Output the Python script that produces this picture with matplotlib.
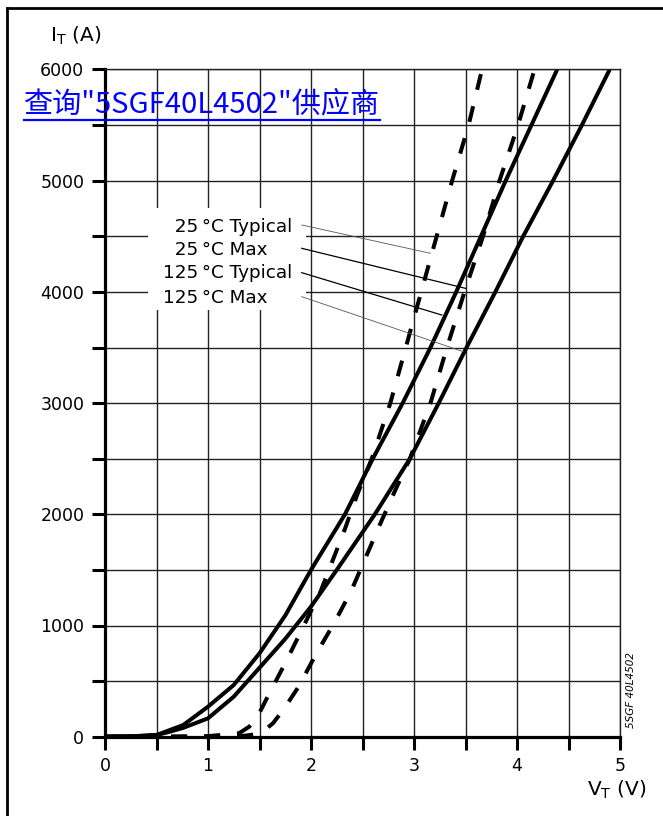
import numpy as np
import matplotlib.pyplot as plt
from matplotlib.patches import Rectangle
from matplotlib.lines import Line2D

# on-state characteristics
v_25_typ = [0, 0.5, 1.0, 1.3, 1.4, 1.47, 1.59, 1.76, 1.91, 2.09, 2.2, 2.33, 2.45,
            2.59, 2.77, 2.92, 3.07, 3.22, 3.37, 3.53, 3.66]
i_25_typ = [0, 0, 5, 30, 90, 160, 380, 680, 960, 1300, 1560, 1870, 2180,
            2500, 3000, 3500, 4000, 4500, 5000, 5500, 6000]

v_25_max = [0, 0.5, 1.0, 1.35, 1.45, 1.55, 1.63, 1.73, 1.88, 2.05, 2.23, 2.39, 2.53,
            2.67, 2.81, 2.96, 3.16, 3.32, 3.49, 3.67, 3.83, 4.01, 4.17]
i_25_max = [0, 0, 0, 8, 20, 60, 120, 240, 450, 745, 1030, 1310, 1610,
            1910, 2200, 2500, 3000, 3500, 4000, 4500, 5000, 5500, 6000]

v_125_typ = [0, 0.3, 0.5, 0.63, 0.76, 1.0, 1.25, 1.5, 1.75, 2.0, 2.33, 2.6, 2.89,
             3.16, 3.41, 3.65, 3.89, 4.14, 4.39]
i_125_typ = [0, 5, 15, 60, 105, 270, 465, 750, 1090, 1500, 2000, 2500, 3000,
             3500, 4000, 4500, 5000, 5500, 6000]

v_125_max = [0, 0.3, 0.5, 0.63, 0.76, 1.0, 1.25, 1.5, 1.75, 2.0, 2.25, 2.62, 2.96,
             3.24, 3.51, 3.79, 4.06, 4.35, 4.63, 4.9]
i_125_max = [0, 5, 15, 45, 80, 165, 360, 620, 880, 1170, 1500, 2000, 2500,
             3000, 3500, 4000, 4500, 5000, 5500, 6000]

# labels and their leader lines (start at text, end on curve)
labels = ["\u200725\u2009°C Typical", "\u200725\u2009°C Max",
          "125\u2009°C Typical", "125\u2009°C Max"]
label_y = [4586, 4377, 4167, 3943]
leader_x0 = [1.91, 1.91, 1.91, 1.91]
leader_y0 = [4602, 4392, 4173, 3957]
leader_x1 = [3.16, 3.50, 3.27, 3.48]
leader_y1 = [4347, 4032, 3792, 3462]

x_ticks = np.arange(0, 5.01, 0.5)
x_ticklabels = ["0", "", "1", "", "2", "", "3", "", "4", "", "5"]
y_ticks = np.arange(0, 6001, 500)
y_ticklabels = ["0", "", "1000", "", "2000", "", "3000", "", "4000", "", "5000", "", "6000"]

plt.rcParams['font.family'] = ['DejaVu Sans']

W, H = 663, 816
fig = plt.figure(figsize=(W / 100, H / 100), dpi=100)
ax = fig.add_axes([105 / W, 1 - 736.7 / H, 515 / W, 667.2 / H])

ax.set_xlim(0, 5)
ax.set_ylim(0, 6000)
ax.set_xticks(x_ticks)
ax.set_xticklabels(x_ticklabels, fontsize=12.5)
ax.set_yticks(y_ticks)
ax.set_yticklabels(y_ticklabels, fontsize=12.5)
ax.tick_params(direction='out', length=9.4, width=2.2, pad=5.5, colors='black')
ax.grid(True, color='#222222', lw=1.0, zorder=0.5)
ax.set_axisbelow(True)
for s in ['left', 'bottom']:
    ax.spines[s].set_linewidth(2.3)
for s in ['top', 'right']:
    ax.spines[s].set_linewidth(1.0)
    ax.spines[s].set_color('#222222')

# white box behind the labels
ax.add_patch(Rectangle((0.42, 3840), 1.53, 915, facecolor='white',
                       edgecolor='none', zorder=1.5))

lw = 2.9
ax.plot(v_125_typ, i_125_typ, color='black', lw=lw, zorder=2, solid_capstyle='butt')
ax.plot(v_125_max, i_125_max, color='black', lw=lw, zorder=2, solid_capstyle='butt')
ax.plot(v_25_typ, i_25_typ, color='black', lw=lw, zorder=2, linestyle=(0, (4.0, 4.2)))
ax.plot(v_25_max, i_25_max, color='black', lw=lw, zorder=2, linestyle=(0, (4.0, 4.2)))

leader_w = [0.6, 0.9, 0.9, 0.6]
leader_c = ['#555555', 'black', 'black', '#555555']
for k in range(len(labels)):
    ax.text(0.563, label_y[k], labels[k], fontsize=13.2, ha='left', va='center', zorder=4)
    ax.plot([leader_x0[k], leader_x1[k]], [leader_y0[k], leader_y1[k]],
            color=leader_c[k], lw=leader_w[k], zorder=3)

fig.text(50 / W, 1 - 36 / H, r"I$_{\mathregular{T}}$ (A)", fontsize=14.5,
         ha='left', va='center')
fig.text(646 / W, 1 - 790 / H, r"V$_{\mathregular{T}}$ (V)", fontsize=14.5,
         ha='right', va='center')
fig.text(631 / W, 1 - 690 / H, "5SGF 40L4502", fontsize=7.5, style='italic',
         rotation=90, ha='center', va='center')

# blue link overlay
link = fig.text(24 / W, 1 - 104 / H, '查询"5SGF40L4502"供应商', fontsize=21,
                color='#0000ff', ha='left', va='center',
                family=['Noto Sans CJK SC', 'DejaVu Sans'])
fig.canvas.draw()
bb = link.get_window_extent().transformed(fig.transFigure.inverted())
fig.add_artist(Line2D([bb.x0, bb.x1], [bb.y0 - 1.0 / H, bb.y0 - 1.0 / H],
                      color='#0000ff', lw=1.6, transform=fig.transFigure))

# frame lines of the scanned page
fig.add_artist(Line2D([7 / W, 7 / W], [0, 1 - 8 / H], color='black', lw=2.0,
                      transform=fig.transFigure))
fig.add_artist(Line2D([7 / W, 1], [1 - 8 / H, 1 - 8 / H], color='black', lw=2.0,
                      transform=fig.transFigure))

fig.savefig('out.png', dpi=100)
